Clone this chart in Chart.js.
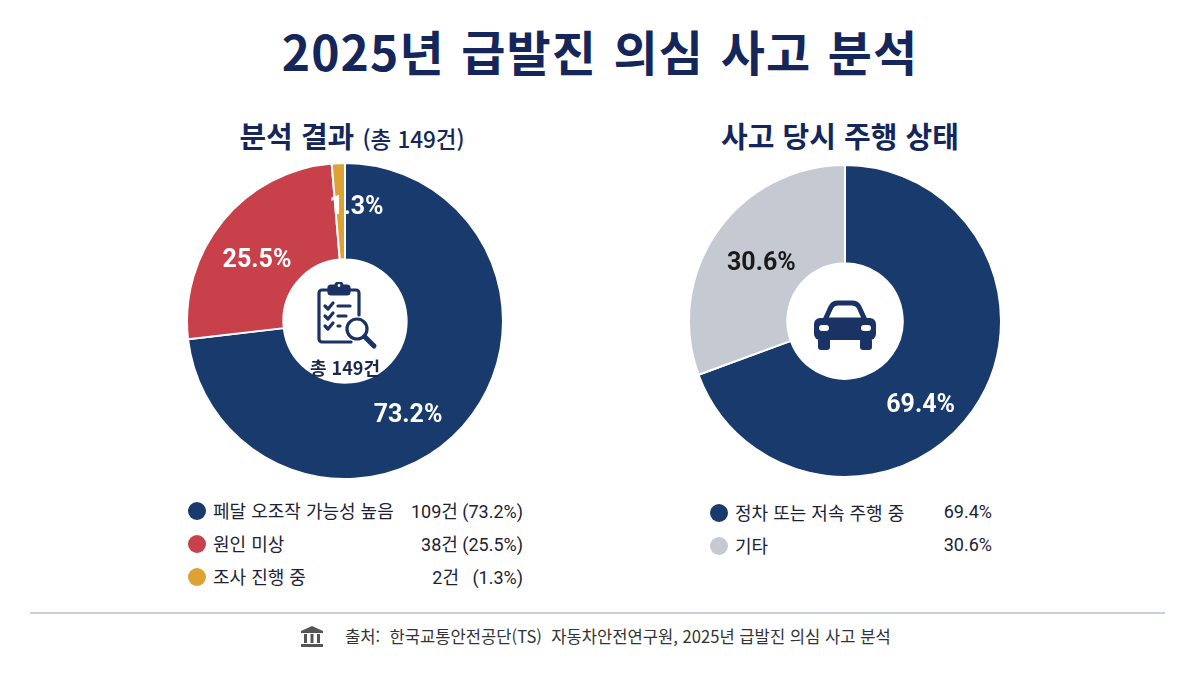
<!DOCTYPE html>
<html lang="ko">
<head>
<meta charset="utf-8">
<title>2025년 급발진 의심 사고 분석</title>
<script src="https://cdn.jsdelivr.net/npm/chart.js@4/dist/chart.umd.min.js"></script>
<style>
  html, body { margin: 0; padding: 0; background: #fff; }
  body { width: 1200px; height: 675px; position: relative; overflow: hidden;
         font-family: 'Noto Sans CJK KR', 'Noto Sans', sans-serif; color: #1c2233; }
  .abs { position: absolute; }
  #title { left: 0; width: 1200px; top: 15px; text-align: center; font-size: 48px; font-weight: 700;
           color: #14265a; letter-spacing: 1.1px; word-spacing: 2px; }
  .sub { top: 114px; font-size: 29px; font-weight: 700; color: #14265a; text-align: center; width: 400px; }
  .sub small { font-size: 22.5px; font-weight: 500; }
  .chartBox { position: absolute; }
  .legend { position: absolute; font-size: 18px; color: #1c2233; }
  .legend .row { position: relative; height: 33px; }
  .legend .dot { position: absolute; top: 50%; width: 18px; height: 18px; margin-top: -9px; border-radius: 50%; }
  .legend .lab { position: absolute; top: 50%; transform: translateY(-55%); white-space: nowrap; }
  .legend .val { position: absolute; right: 0; top: 50%; transform: translateY(-55%); white-space: pre;
                 font-family: 'Roboto', 'Noto Sans CJK KR', sans-serif; }
  #rule { left: 30px; top: 612px; width: 1135px; height: 2px; background: #c9cfdc; }
  #source { left: 345px; top: 624px; font-size: 16.6px; color: #333; white-space: pre; }
  .centerTxt { font-size: 18px; font-weight: 700; color: #1b2a4c; text-align: center; width: 120px; }
</style>
</head>
<body>
<div id="title" class="abs">2025년 급발진 의심 사고 분석</div>
<div class="abs sub" style="left:152px">분석 결과 <small>(총 149건)</small></div>
<div class="abs sub" style="left:640px">사고 당시 주행 상태</div>

<div class="chartBox" style="left:186px; top:162px; width:318px; height:318px;"><canvas id="resultChart"></canvas></div>
<div class="chartBox" style="left:688px; top:164px; width:314px; height:314px;"><canvas id="stateChart"></canvas></div>

<!-- clipboard icon -->
<svg class="abs" style="left:313px; top:282px" width="66" height="68" viewBox="0 0 66 68" fill="none" stroke="#1b3264" stroke-width="3.2" stroke-linecap="round" stroke-linejoin="round">
  <path d="M38 60 H9 a3 3 0 0 1 -3 -3 V11 a3 3 0 0 1 3 -3 H43 a3 3 0 0 1 3 3 V33"/>
  <rect x="16" y="4" width="20" height="8" rx="2" fill="#1b3264"/>
  <circle cx="26" cy="3.5" r="3" fill="#fff"/>
  <path d="M12 24 l3 3 l5 -6"/><path d="M25 24 H37"/>
  <path d="M12 34 l3 3 l5 -6"/><path d="M25 34 H33"/>
  <path d="M12 44 l3 3 l5 -6"/><path d="M25 44 H27"/>
  <circle cx="44" cy="47" r="10"/>
  <path d="M51.5 54.5 L61 64" stroke-width="5"/>
</svg>
<div class="abs centerTxt" style="left:285px; top:354px">총 149건</div>

<!-- car icon -->
<svg class="abs" style="left:811px; top:300px" width="68" height="52" viewBox="0 0 68 52">
  <path d="M14 20 L20 7 Q22 3 27 3 H41 Q46 3 48 7 L54 20 Z" fill="none" stroke="#1b3264" stroke-width="5" stroke-linejoin="round"/>
  <rect x="3" y="18" width="62" height="22" rx="6" fill="#1b3264"/>
  <rect x="7" y="38" width="12" height="12" rx="3" fill="#1b3264"/>
  <rect x="49" y="38" width="12" height="12" rx="3" fill="#1b3264"/>
  <rect x="8" y="25" width="10" height="6" rx="3" fill="#fff"/>
  <rect x="50" y="25" width="10" height="6" rx="3" fill="#fff"/>
</svg>

<div id="resultLegend" class="legend" style="left:186px; top:494px; width:337px;"></div>
<div id="stateLegend" class="legend" style="left:708px; top:496px; width:284px;"></div>

<div id="rule" class="abs"></div>
<svg class="abs" style="left:301px; top:626px" width="22" height="21" viewBox="0 0 22 21" fill="#555">
  <path d="M11 0 L22 5 V7 H0 V5 Z"/>
  <rect x="3" y="8" width="3" height="9"/><rect x="9.5" y="8" width="3" height="9"/><rect x="16" y="8" width="3" height="9"/>
  <rect x="0" y="18" width="22" height="3"/>
</svg>
<div id="source" class="abs">출처:  한국교통안전공단(TS)  자동차안전연구원, 2025년 급발진 의심 사고 분석</div>

<script>
// 분석 결과 (총 149건)
const resultLabels = ['페달 오조작 가능성 높음', '원인 미상', '조사 진행 중'];
const resultCounts = [109, 38, 2];
const resultShares = [73.2, 25.5, 1.3];
const resultColors = ['#183a6d', '#c8414a', '#dea133'];

// 사고 당시 주행 상태
const stateLabels = ['정차 또는 저속 주행 중', '기타'];
const stateShares = [69.4, 30.6];
const stateColors = ['#183a6d', '#c4c9d2'];

// draws the percentage text inside each slice
const sliceLabels = {
    id: 'sliceLabels',
    afterDatasetsDraw(chart, args, opts) {
        const ctx = chart.ctx;
        const meta = chart.getDatasetMeta(0);
        ctx.save();
        ctx.font = 'bold 25px Roboto, "Noto Sans CJK KR", sans-serif';
        ctx.textAlign = 'center';
        ctx.textBaseline = 'middle';
        meta.data.forEach(function(arc, i) {
            const p = arc.tooltipPosition();
            const shift = opts.shift[i] || [0, 0];
            ctx.fillStyle = opts.colors[i];
            ctx.fillText(opts.texts[i], p.x + shift[0], p.y + shift[1]);
        });
        ctx.restore();
    }
};

function makeDoughnut(id, labels, values, colors, cutout, texts, textColors, shift) {
    return new Chart(document.getElementById(id), {
        type: 'doughnut',
        data: {
            labels: labels,
            datasets: [{
                data: values,
                backgroundColor: colors,
                borderColor: '#ffffff',
                borderWidth: 2
            }]
        },
        options: {
            responsive: true,
            maintainAspectRatio: false,
            animation: false,
            cutout: cutout,
            layout: { padding: 0 },
            plugins: {
                legend: { display: false },
                tooltip: { enabled: false },
                sliceLabels: { texts: texts, colors: textColors, shift: shift }
            }
        },
        plugins: [sliceLabels]
    });
}

makeDoughnut('resultChart', resultLabels, resultCounts, resultColors, '39%',
    resultShares.map(v => v.toFixed(1) + '%'), ['#fff', '#fff', '#fff'],
    [[-19, 22], [-3, 9], [16, -4]]);

makeDoughnut('stateChart', stateLabels, stateShares, stateColors, '37%',
    stateShares.map(v => v.toFixed(1) + '%'), ['#fff', '#1a1a1a'],
    [[-12, 24], [4, 4]]);

// HTML legends built from the same arrays
function buildLegend(elId, labels, colors, values, textLeft) {
    const box = document.getElementById(elId);
    labels.forEach(function(label, i) {
        const row = document.createElement('div');
        row.className = 'row';
        row.innerHTML = '<span class="dot" style="left:2px;background:' + colors[i] + '"></span>' +
            '<span class="lab" style="left:' + textLeft + 'px">' + label + '</span>' +
            '<span class="val">' + values[i] + '</span>';
        box.appendChild(row);
    });
}

buildLegend('resultLegend', resultLabels, resultColors,
    resultCounts.map((c, i) => c + '건 ' + (c < 10 ? '  ' : '') + '(' + resultShares[i].toFixed(1) + '%)'), 27);
buildLegend('stateLegend', stateLabels, stateColors,
    stateShares.map(v => v.toFixed(1) + '%'), 27);
</script>
</body>
</html>
